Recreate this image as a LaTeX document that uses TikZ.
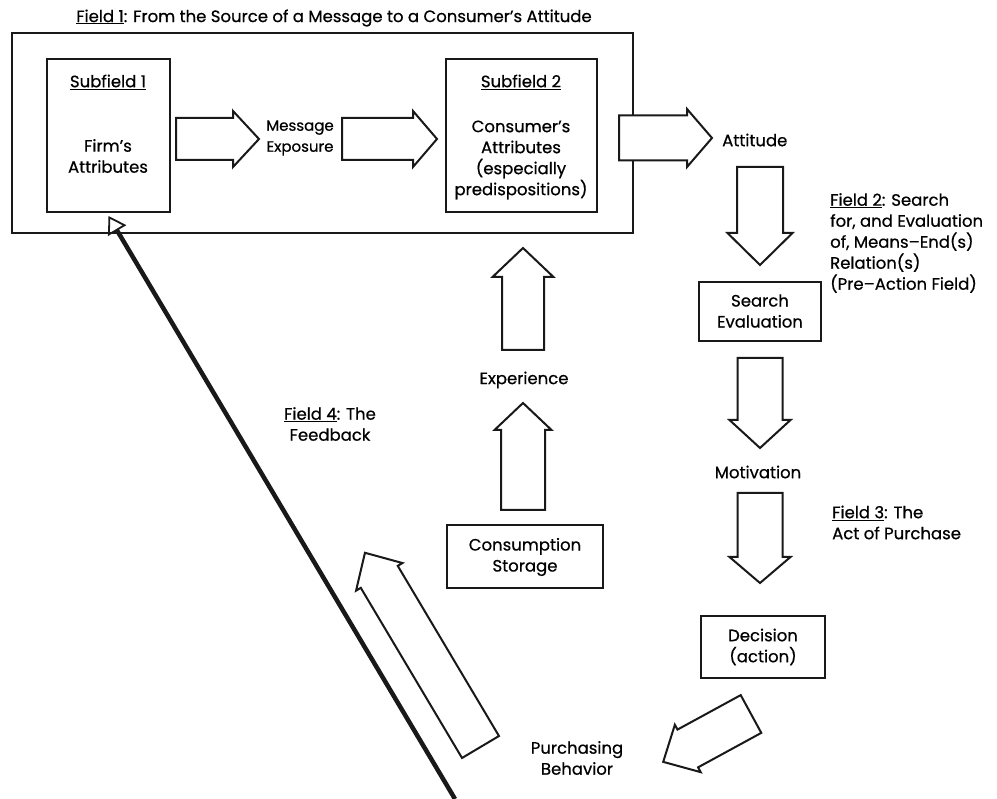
\documentclass[tikz,border=0pt]{standalone}
\usepackage{fontspec}
\setmainfont{Poppins}[FakeBold=0.6]
\usetikzlibrary{arrows.meta}
% fat block arrow: tail centre (#1,#2), canvas angle #3, length #4, shaft width #5, head width #6, head length #7
\newcommand\fatarrow[7]{%
  \begin{scope}[shift={(#1,#2)},rotate=#3]
    \draw[fatline] (0,{-#5/2}) -- ({#4-#7},{-#5/2}) -- ({#4-#7},{-#6/2}) -- (#4,0)
      -- ({#4-#7},{#6/2}) -- ({#4-#7},{#5/2}) -- (0,{#5/2}) -- cycle;
  \end{scope}}
\begin{document}
\begin{tikzpicture}[x=1pt,y=-1pt,
  txt/.style={font=\fontsize{16.5}{21}\selectfont, align=center, inner sep=0pt, text=black},
  boxed/.style={draw=black!90, line width=2pt, inner sep=0pt},
  fatline/.style={draw=black!90, line width=2pt, line join=miter, fill=white},
  feedback/.style={draw=black!90, line width=4.5pt,
    -{Triangle[open, length=17pt, width=21pt, line width=1.8pt]}}]
\path[fill=white, use as bounding box] (0,0) rectangle (997,799);

% Field 1
\node[txt] (title) at (334,18) {\underline{Field 1}: From the Source of a Message to a Consumer's Attitude};
\node[boxed, line width=2.4pt, minimum width=621pt, minimum height=200pt] (f1) at (322.5,133) {};
\node[boxed, minimum width=123pt, minimum height=153pt] (sf1) at (108.5,135.5) {};
\node[txt] (sf1t) at (108,82) {\underline{Subfield 1}};
\node[txt] (sf1b) at (108,156) {Firm's\\Attributes};
\node[txt, font=\fontsize{15}{21}\selectfont] (msg) at (300,138) {Message\\Exposure};
\node[boxed, minimum width=151pt, minimum height=153pt] (sf2) at (521.5,135.5) {};
\node[txt] (sf2t) at (521,82) {\underline{Subfield 2}};
\node[txt] (sf2b) at (521,160) {Consumer's\\Attributes\\(especially\\predispositions)};
\node[txt, anchor=west] (att) at (722,140) {Attitude};

\fatarrow{176}{139}{0}{83}{42}{56}{26}
\fatarrow{342}{139}{0}{95}{42}{56}{24}
\fatarrow{619}{138}{0}{93}{45}{58}{25}

% Field 2
\node[txt, anchor=west, align=left] (f2) at (830,243) {\underline{Field 2}: Search\\for, and Evaluation\\of, Means--End(s)\\Relation(s)\\(Pre--Action Field)};
\node[boxed, minimum width=122pt, minimum height=59pt] (search) at (760,311.5) {};
\node[txt] (searcht) at (760,311) {Search\\Evaluation};
\fatarrow{760}{167}{-90}{98}{46}{65}{32}
\fatarrow{760}{358}{-90}{90}{45}{61}{28}

% Field 3
\node[txt] (mot) at (758,472) {Motivation};
\node[txt, anchor=west, align=left] (f3) at (832,522.5) {\underline{Field 3}: The\\Act of Purchase};
\fatarrow{760}{493}{-90}{90}{45}{61}{26}
\node[boxed, minimum width=124pt, minimum height=61pt] (dec) at (763,647) {};
\node[txt] (dect) at (763,647) {Decision\\(action)};
\fatarrow{751}{714}{208.6}{100}{43}{54}{28}
\node[txt] (purch) at (577,758) {Purchasing\\Behavior};

% Field 4 and middle column
\node[boxed, minimum width=156pt, minimum height=63pt] (cons) at (525,556.5) {};
\node[txt] (const) at (525,557) {Consumption\\Storage};
\fatarrow{523}{510}{90}{107}{44}{57}{27}
\node[txt] (exp) at (524,380) {Experience};
\fatarrow{523}{350}{90}{102}{42}{61}{29}
\node[txt] (f4) at (330,424) {\underline{Field 4}: The\\Feedback};
\fatarrow{480.5}{747}{120.75}{226}{43}{54}{28}

\coordinate (fbstart) at (455,799);
\coordinate (fbtip) at ([yshift=-3pt]sf1.south);
\draw[feedback] (fbstart) -- (fbtip);
\end{tikzpicture}
\end{document}
